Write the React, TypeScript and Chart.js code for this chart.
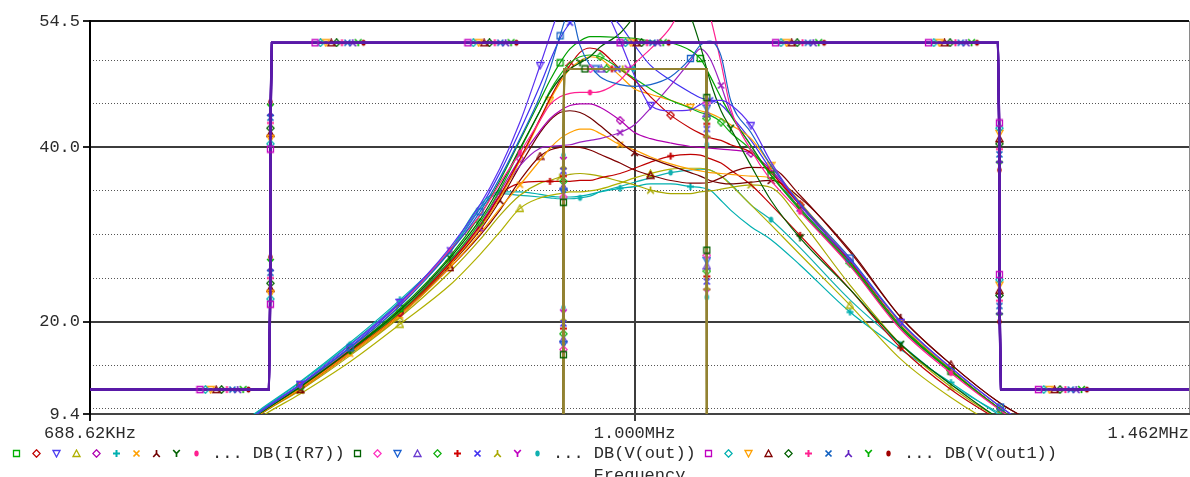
import React, { useEffect, useRef } from "react";
import { Chart, registerables } from "chart.js";

Chart.register(...registerables);

// ---------------- axes ----------------
const F_MIN_KHZ = 688.62;
const F_MAX_KHZ = 1462;
const DB_MIN = 9.4;
const DB_MAX = 54.5;
const X_TICK_KHZ = [688.62, 1000, 1462];
const X_TICK_LABELS = ["688.62KHz", "1.000MHz", "1.462MHz"];
const Y_TICK_DB = [9.4, 20, 40, 54.5];
const Y_TICK_LABELS = ["9.4", "20.0", "40.0", "54.5"];
const Y_MINOR_DB = [10, 15, 25, 30, 35, 45, 50];
const X_TITLE = "Frequency";

// ---------------- DB(V(out1)) : wide band traces ----------------
const SQ_LEVELS_DB = [12.2, 52.0];
const SQ_EDGES_KHZ = [778.4, 780.0, 1282.6, 1285.3];
const SQ_MARK_KHZ = [742.5, 803.4, 892.1, 990.1, 1101.4, 1223.0, 1318.7];
const SQ_MARK_DB = [22.0, 39.8, 42.8, 25.4];

// ---------------- DB(V(out)) : narrow band traces ----------------
const IN_LEVELS_DB = [-20, 49.0];
const IN_EDGES_KHZ = [951.9, 952.9, 1050.6, 1050.9];
const IN_MARK_KHZ = [966.6];
const IN_MARK_DB = [16.2, 33.7, 45.7, 28.2];

const MARK_RATIO = 1.0037;
const MARK_STEP_DB = 0.6;

// ---------------- DB(I(R7)) family : resonance curves ----------------
const BELL_KHZ = [763.1, 773.7, 795.2, 822.9, 851.5, 881.2, 899.5, 911.9, 924.5, 937.3, 943.7, 950.2, 956.7, 963.3, 969.9, 976.6, 990.1, 1000, 1011, 1025, 1039, 1046, 1053, 1061, 1068, 1083, 1098, 1120, 1159, 1200, 1242, 1285, 1303];

const BELL_V1_DB = [7.9, 9.7, 12.8, 17.3, 22.2, 28.5, 33.4, 37.6, 42.9, 49.4, 52.8, 56.2, 59.1, 60.8, 60.2, 57.4, 52.2, 48.2, 44.8, 44.2, 44.3, 44.9, 45.4, 45.4, 44.9, 42.5, 38.3, 33.4, 27.1, 19.9, 14.7, 10.2, 8.6];
const BELL_B1_DB = [7.9, 9.6, 12.7, 17.0, 21.8, 28.0, 32.6, 36.5, 41.0, 45.9, 49.0, 52.8, 55.7, 51.7, 49.4, 48.1, 47.2, 47.0, 47.2, 48.1, 50.2, 51.7, 52.2, 50.5, 45.4, 41.7, 37.9, 33.6, 27.3, 20.0, 14.7, 10.2, 8.6];
const BELL_P1_DB = [7.9, 9.6, 12.7, 16.9, 21.9, 28.2, 32.2, 35.9, 39.4, 43.1, 44.9, 45.8, 46.2, 46.3, 46.3, 46.4, 47.7, 49.6, 51.3, 53.8, 57.9, 58.5, 55.1, 49.7, 44.5, 39.7, 36.2, 32.6, 26.4, 19.1, 14.1, 9.8, 8.2];
const BELL_DG_DB = [7.8, 9.5, 12.5, 16.7, 21.3, 27.3, 31.7, 35.5, 39.9, 44.2, 46.3, 47.9, 49.0, 49.7, 50.4, 51.5, 53.1, 55.1, 57.9, 59.7, 55.1, 51.7, 47.7, 44.2, 42.2, 37.9, 33.9, 29.6, 23.7, 17.4, 12.8, 8.8, 7.7];
const BELL_G1_DB = [7.8, 9.5, 12.6, 16.8, 21.5, 27.5, 32.2, 36.2, 40.8, 45.4, 47.7, 49.7, 51.3, 52.2, 52.7, 52.7, 52.6, 52.5, 52.2, 52.0, 51.1, 50.2, 48.2, 45.7, 43.7, 40.2, 36.8, 32.8, 26.5, 19.3, 14.3, 9.9, 8.3];
const BELL_G2_DB = [7.8, 9.5, 12.5, 16.7, 21.1, 27.0, 31.4, 35.1, 39.7, 44.2, 46.5, 48.3, 49.7, 50.4, 50.6, 50.4, 49.0, 47.9, 46.7, 45.4, 44.5, 44.0, 43.7, 42.9, 41.7, 39.7, 36.8, 33.0, 26.7, 19.5, 14.4, 9.9, 8.3];
const BELL_R1_DB = [7.7, 9.5, 12.5, 16.6, 21.0, 26.7, 31.0, 34.5, 38.7, 43.3, 45.6, 47.7, 49.4, 50.9, 51.4, 51.1, 49.0, 47.7, 45.8, 43.7, 42.2, 41.6, 41.1, 40.8, 40.3, 39.4, 37.1, 33.4, 26.9, 19.5, 14.4, 9.9, 8.3];
const BELL_O1_DB = [7.7, 9.4, 12.3, 16.5, 20.9, 26.6, 30.7, 34.2, 38.5, 43.1, 45.4, 47.4, 49.0, 49.9, 50.4, 50.2, 48.2, 46.7, 46.1, 45.4, 44.6, 44.2, 43.9, 43.3, 42.6, 41.0, 37.9, 33.7, 27.1, 19.8, 14.5, 9.9, 8.3];
const BELL_PU_DB = [7.7, 9.5, 12.5, 16.6, 21.0, 26.9, 31.1, 34.9, 38.7, 41.9, 43.3, 44.2, 44.8, 45.0, 45.0, 44.6, 43.1, 41.7, 41.0, 40.5, 40.1, 40.0, 39.9, 39.8, 39.7, 39.3, 37.4, 33.4, 26.9, 19.5, 14.4, 9.9, 8.3];
const BELL_MG_DB = [7.8, 9.5, 12.6, 16.8, 21.3, 26.9, 30.7, 34.5, 37.9, 39.9, 40.1, 40.2, 40.3, 40.6, 40.8, 41.0, 41.7, 42.6, 44.5, 47.1, 49.9, 51.3, 50.2, 47.1, 44.0, 40.2, 36.8, 33.0, 26.6, 19.3, 14.3, 9.9, 8.3];
const BELL_DR1_DB = [7.5, 9.4, 12.3, 16.5, 20.9, 26.5, 30.5, 33.9, 37.9, 41.7, 43.1, 44.0, 44.2, 44.0, 43.4, 42.5, 40.6, 39.4, 38.7, 37.9, 37.1, 36.7, 36.2, 35.9, 35.8, 36.0, 36.2, 34.2, 28.2, 20.5, 15.1, 10.6, 9.2];
const BELL_O2_DB = [7.5, 9.4, 12.2, 16.3, 20.7, 26.2, 30.1, 33.0, 35.7, 38.5, 39.9, 41.0, 41.7, 42.1, 42.1, 41.6, 40.3, 39.7, 38.9, 38.1, 37.5, 37.3, 37.1, 37.0, 36.9, 36.7, 36.5, 33.4, 26.9, 19.5, 14.4, 9.9, 8.3];
const BELL_DR2_DB = [7.5, 9.4, 12.2, 16.3, 20.7, 26.2, 29.9, 32.8, 36.2, 39.0, 39.7, 40.0, 40.1, 40.0, 39.7, 39.2, 38.2, 37.4, 36.8, 36.2, 35.9, 35.9, 36.0, 36.5, 37.1, 37.7, 37.6, 34.5, 28.0, 20.5, 15.1, 10.6, 9.2];
const BELL_R2_DB = [7.7, 9.5, 12.5, 16.6, 21.0, 26.6, 30.7, 34.5, 35.9, 36.1, 36.1, 36.1, 36.1, 36.2, 36.2, 36.5, 37.0, 37.6, 38.3, 39.0, 39.2, 39.1, 38.7, 38.2, 37.4, 35.7, 33.4, 29.9, 23.7, 17.0, 12.2, 8.6, 7.4];
const BELL_OL1_DB = [7.4, 9.3, 12.1, 16.1, 20.5, 25.7, 29.4, 32.2, 34.5, 35.9, 36.2, 36.6, 36.9, 37.0, 36.9, 36.7, 36.1, 35.7, 35.1, 34.7, 34.7, 34.9, 35.0, 35.2, 35.4, 35.7, 35.4, 31.7, 24.2, 17.4, 12.5, 8.8, 7.7];
const BELL_OL2_DB = [7.2, 9.0, 11.7, 15.4, 19.7, 24.2, 27.7, 30.3, 33.0, 34.2, 34.5, 34.7, 34.9, 34.9, 35.0, 35.2, 35.9, 36.5, 37.0, 37.5, 37.6, 37.6, 37.4, 36.7, 35.7, 33.4, 31.1, 27.7, 21.9, 15.7, 11.3, 7.9, 7.0];
const BELL_C1_DB = [8.2, 9.9, 13.1, 17.6, 22.5, 28.2, 33.4, 34.9, 34.9, 34.6, 34.4, 34.3, 34.3, 34.4, 34.6, 34.9, 35.3, 35.5, 35.8, 35.8, 35.5, 35.4, 35.1, 33.9, 32.8, 30.9, 29.4, 26.5, 21.1, 16.8, 13.0, 9.2, 7.9];
const BELL_C2_DB = [8.1, 9.8, 13.0, 17.4, 22.3, 28.0, 33.0, 34.7, 34.5, 34.3, 34.2, 34.1, 34.1, 34.2, 34.4, 34.9, 35.5, 36.0, 36.5, 37.1, 37.4, 37.5, 37.4, 36.7, 35.8, 33.4, 31.7, 28.5, 22.5, 17.4, 12.8, 9.4, 8.0];
const BELL_V2_DB = [7.9, 9.7, 12.8, 17.1, 22.1, 28.2, 33.0, 37.1, 41.9, 47.1, 49.9, 52.5, 54.3, 55.7, 56.8, 56.2, 54.0, 51.7, 49.4, 47.7, 46.3, 45.7, 45.4, 44.9, 43.7, 40.8, 37.4, 33.0, 26.9, 19.5, 14.4, 9.9, 8.3];

// ---------------- styles ----------------
const FONT = '"Liberation Mono", "Courier New", monospace';
const TEXT_COLOR = "#2a2a2a";

type Style = [string, string];

const GROUP_IR7: Style[] = [
  ["square", "#00b000"], ["diamond", "#c00000"], ["triDown", "#4b3cf0"], ["triUp", "#b0b000"], ["diamond", "#b000b0"],
  ["plus", "#00b0b0"], ["cross", "#ffa000"], ["lambda", "#700000"], ["y", "#006000"], ["dot", "#ff2090"],
];
const GROUP_VOUT: Style[] = [
  ["square", "#006000"], ["diamond", "#ff30c0"], ["triDown", "#1a60d0"], ["triUp", "#6a3ad0"], ["diamond", "#10b010"],
  ["plus", "#d00000"], ["cross", "#4030f0"], ["lambda", "#a8a800"], ["y", "#c000c0"], ["dot", "#10b0b0"],
];
const GROUP_VOUT1: Style[] = [
  ["square", "#c000c0"], ["diamond", "#00b0b0"], ["triDown", "#ffa000"], ["triUp", "#800000"], ["diamond", "#006000"],
  ["plus", "#ff2090"], ["cross", "#1060c0"], ["lambda", "#6020c0"], ["y", "#00b000"], ["dot", "#a00000"],
];
const LEGEND_TEXT = ["... DB(I(R7))", "... DB(V(out))", "... DB(V(out1))"];

const BELLS = [
  { db: BELL_V1_DB, shape: "triDown", color: "#5a30f0", marks: [2, 4, 9, 18, 25, 29] },
  { db: BELL_B1_DB, shape: "square", color: "#1a62c8", marks: [3, 6, 11, 20, 28, 31] },
  { db: BELL_P1_DB, shape: "dot", color: "#ff2090", marks: [2, 5, 8, 14, 27, 30] },
  { db: BELL_DG_DB, shape: "y", color: "#006000", marks: [3, 5, 13, 24, 27, 29] },
  { db: BELL_G1_DB, shape: "square", color: "#00a000", marks: [2, 4, 11, 21, 26, 30] },
  { db: BELL_G2_DB, shape: "diamond", color: "#10b010", marks: [3, 6, 15, 23, 28, 31] },
  { db: BELL_R1_DB, shape: "diamond", color: "#c00000", marks: [2, 4, 12, 19, 27, 30] },
  { db: BELL_O1_DB, shape: "triDown", color: "#ffa000", marks: [3, 5, 10, 20, 26, 29] },
  { db: BELL_PU_DB, shape: "diamond", color: "#b000b0", marks: [2, 4, 8, 16, 25, 28] },
  { db: BELL_MG_DB, shape: "cross", color: "#9a20c0", marks: [3, 6, 16, 23, 27, 30] },
  { db: BELL_DR1_DB, shape: "lambda", color: "#700000", marks: [2, 5, 7, 17, 26, 29] },
  { db: BELL_O2_DB, shape: "cross", color: "#ffa000", marks: [3, 4, 8, 16, 27, 31] },
  { db: BELL_DR2_DB, shape: "triUp", color: "#800000", marks: [2, 5, 9, 18, 26, 30] },
  { db: BELL_R2_DB, shape: "plus", color: "#c00000", marks: [3, 6, 10, 19, 27, 29] },
  { db: BELL_OL1_DB, shape: "lambda", color: "#a8a800", marks: [2, 4, 11, 18, 25, 30] },
  { db: BELL_OL2_DB, shape: "triUp", color: "#b0b000", marks: [4, 8, 18, 28, 31] },
  { db: BELL_C1_DB, shape: "plus", color: "#00b0b0", marks: [4, 7, 16, 20, 28, 30] },
  { db: BELL_C2_DB, shape: "dot", color: "#10b0b0", marks: [3, 5, 13, 19, 26, 29] },
  { db: BELL_V2_DB, shape: "cross", color: "#4030f0", marks: [2, 5, 12, 22, 27, 31] },
];

function makeMarker(shape: string, color: string): HTMLCanvasElement {
  const c = document.createElement("canvas");
  c.width = 9;
  c.height = 9;
  const g = c.getContext("2d")!;
  g.strokeStyle = color;
  g.fillStyle = color;
  g.lineWidth = 1.3;
  const m = 4.5;
  g.beginPath();
  switch (shape) {
    case "square":
      g.rect(1.5, 1.5, 6, 6);
      g.stroke();
      break;
    case "diamond":
      g.moveTo(m, 0.8); g.lineTo(8.2, m); g.lineTo(m, 8.2); g.lineTo(0.8, m); g.closePath();
      g.stroke();
      break;
    case "triDown":
      g.moveTo(1, 1.5); g.lineTo(8, 1.5); g.lineTo(m, 8); g.closePath();
      g.stroke();
      break;
    case "triUp":
      g.moveTo(m, 1); g.lineTo(8, 7.5); g.lineTo(1, 7.5); g.closePath();
      g.stroke();
      break;
    case "plus":
      g.moveTo(m, 1); g.lineTo(m, 8); g.moveTo(1, m); g.lineTo(8, m);
      g.lineWidth = 2;
      g.stroke();
      break;
    case "cross":
      g.moveTo(1.5, 1.5); g.lineTo(7.5, 7.5); g.moveTo(7.5, 1.5); g.lineTo(1.5, 7.5);
      g.lineWidth = 1.7;
      g.stroke();
      break;
    case "lambda":
      g.moveTo(m, 1); g.lineTo(m, 4.5); g.lineTo(1.2, 8); g.moveTo(m, 4.5); g.lineTo(7.8, 8);
      g.lineWidth = 1.7;
      g.stroke();
      break;
    case "y":
      g.moveTo(1.2, 1); g.lineTo(m, 4.5); g.lineTo(7.8, 1); g.moveTo(m, 4.5); g.lineTo(m, 8);
      g.lineWidth = 1.7;
      g.stroke();
      break;
    default:
      g.ellipse(m, m, 2.2, 3, 0, 0, Math.PI * 2);
      g.fill();
  }
  return c;
}

type Pt = { x: number; y: number };

function buildSquare(i: number) {
  const k = Math.pow(MARK_RATIO, i);
  const [lo, hi] = SQ_LEVELS_DB;
  const [r0, r1, f0, f1] = SQ_EDGES_KHZ;
  const pts: Pt[] = [];
  const marks: number[] = [];
  const add = (x: number, y: number, m: boolean) => {
    if (m) marks.push(pts.length);
    pts.push({ x, y });
  };
  add(F_MIN_KHZ, lo, false);
  add(SQ_MARK_KHZ[0] * k, lo, true);
  add(r0, lo, false);
  add((r0 + r1) / 2, SQ_MARK_DB[0] + i * MARK_STEP_DB, true);
  add((r0 + r1) / 2, SQ_MARK_DB[1] + i * MARK_STEP_DB, true);
  add(r1, hi, false);
  for (let j = 1; j <= 5; j++) add(SQ_MARK_KHZ[j] * k, hi, true);
  add(f0, hi, false);
  add((f0 + f1) / 2, SQ_MARK_DB[2] - i * MARK_STEP_DB, true);
  add((f0 + f1) / 2, SQ_MARK_DB[3] - i * MARK_STEP_DB, true);
  add(f1, lo, false);
  add(SQ_MARK_KHZ[6] * k, lo, true);
  add(F_MAX_KHZ, lo, false);
  return { pts, marks };
}

function buildInner(i: number) {
  const k = Math.pow(MARK_RATIO, i);
  const [lo, hi] = IN_LEVELS_DB;
  const [e0, e1, e2, e3] = IN_EDGES_KHZ;
  const pts: Pt[] = [];
  const marks: number[] = [];
  const add = (x: number, y: number, m: boolean) => {
    if (m) marks.push(pts.length);
    pts.push({ x, y });
  };
  add(F_MIN_KHZ, lo, false);
  add(e0, lo, false);
  add((e0 + e1) / 2, IN_MARK_DB[0] + i * MARK_STEP_DB, true);
  add((e0 + e1) / 2, IN_MARK_DB[1] + i * MARK_STEP_DB, true);
  add(e1, hi, false);
  add(IN_MARK_KHZ[0] * k, hi, true);
  add(e2, hi, false);
  add((e2 + e3) / 2, IN_MARK_DB[2] - i * MARK_STEP_DB, true);
  add((e2 + e3) / 2, IN_MARK_DB[3] - i * MARK_STEP_DB, true);
  add(e3, lo, false);
  add(F_MAX_KHZ, lo, false);
  return { pts, marks };
}

export default function App() {
  const ref = useRef<HTMLCanvasElement>(null);

  useEffect(() => {
    const canvas = ref.current;
    if (!canvas) return;

    const legendImgs = [GROUP_IR7, GROUP_VOUT, GROUP_VOUT1].map((g) => g.map(([s, c]) => makeMarker(s, c)));

    const datasets: any[] = [];

    GROUP_VOUT1.forEach(([shape, color], i) => {
      const { pts, marks } = buildSquare(i);
      datasets.push({
        data: pts,
        borderColor: "#5a1aa8",
        borderWidth: 2,
        tension: 0,
        clip: 0,
        pointStyle: makeMarker(shape, color),
        pointRadius: (ctx: any) => (marks.includes(ctx.dataIndex) ? 3 : 0),
        yAxisID: "y",
      });
    });

    GROUP_VOUT.forEach(([shape, color], i) => {
      const { pts, marks } = buildInner(i);
      datasets.push({
        data: pts,
        borderColor: "#928232",
        borderWidth: 2,
        tension: 0,
        clip: 0,
        pointStyle: makeMarker(shape, color),
        pointRadius: (ctx: any) => (marks.includes(ctx.dataIndex) ? 3 : 0),
        yAxisID: "y",
      });
    });

    BELLS.forEach((b) => {
      datasets.push({
        data: BELL_KHZ.map((f, j) => ({ x: f, y: b.db[j] })),
        borderColor: b.color,
        borderWidth: 1.2,
        cubicInterpolationMode: "monotone",
        clip: 0,
        pointStyle: makeMarker(b.shape, b.color),
        pointRadius: (ctx: any) => (b.marks.includes(ctx.dataIndex) ? 3 : 0),
        yAxisID: "y",
      });
    });

    const legendPlugin = {
      id: "pspiceLegend",
      afterDraw(chart: any) {
        const ctx = chart.ctx;
        ctx.save();
        ctx.font = `17px ${FONT}`;
        ctx.fillStyle = TEXT_COLOR;
        ctx.textBaseline = "middle";
        ctx.textAlign = "left";
        const xs = [16, 357, 708];
        const yc = 453;
        legendImgs.forEach((imgs, gi) => {
          imgs.forEach((img, j) => {
            ctx.drawImage(img, Math.round(xs[gi] + j * 20 - 4.5), Math.round(yc - 4.5));
          });
          ctx.fillText(LEGEND_TEXT[gi], xs[gi] + 196, yc);
        });
        ctx.restore();
      },
    };

    const solid = "#3c3c3c";
    const chart = new Chart(canvas, {
      type: "line",
      data: { datasets },
      options: {
        responsive: false,
        animation: false,
        events: [],
        layout: { padding: { top: 21, right: 1, left: 0, bottom: 0 } },
        plugins: { legend: { display: false }, tooltip: { enabled: false } },
        scales: {
          x: {
            type: "logarithmic",
            min: F_MIN_KHZ,
            max: F_MAX_KHZ,
            afterBuildTicks: (s: any) => {
              s.ticks = X_TICK_KHZ.map((v) => ({ value: v }));
            },
            afterFit: (s: any) => {
              s.height = 63;
              s.paddingLeft = 0;
              s.paddingRight = 0;
            },
            ticks: {
              autoSkip: false,
              maxRotation: 0,
              minRotation: 0,
              padding: 2,
              color: TEXT_COLOR,
              font: { family: FONT, size: 17 },
              callback: (_v: any, i: number) =>
                i === X_TICK_LABELS.length - 1
                  ? X_TICK_LABELS[i] + " ".repeat(X_TICK_LABELS[i].length)
                  : X_TICK_LABELS[i],
            },
            grid: {
              color: (c: any) => (c.index === 1 ? solid : c.index === 2 ? "#8a8a8a" : "rgba(0,0,0,0)"),
              lineWidth: (c: any) => (c.index === 2 ? 1 : 2),
              tickLength: 7,
              tickWidth: 2,
              tickColor: (c: any) => (c.index === 0 ? "#111" : c.index === 1 ? solid : "rgba(0,0,0,0)"),
            },
            border: { color: "#444", width: 2 },
            title: {
              display: true,
              text: X_TITLE,
              color: TEXT_COLOR,
              font: { family: FONT, size: 17, lineHeight: 1 },
              padding: { top: 0, bottom: -7 },
            },
          },
          y: {
            type: "linear",
            position: "left",
            min: DB_MIN,
            max: DB_MAX,
            afterBuildTicks: (s: any) => {
              s.ticks = Y_TICK_DB.map((v) => ({ value: v }));
            },
            afterFit: (s: any) => {
              s.width = 90;
              s.paddingTop = 0;
              s.paddingBottom = 0;
            },
            ticks: {
              autoSkip: false,
              padding: 3,
              color: TEXT_COLOR,
              font: { family: FONT, size: 17 },
              callback: (_v: any, i: number) => Y_TICK_LABELS[i],
            },
            grid: {
              color: (c: any) => {
                const v = c.tick ? c.tick.value : null;
                if (v === DB_MAX) return "#111";
                if (v === DB_MIN) return "rgba(0,0,0,0)";
                return solid;
              },
              lineWidth: 2,
              tickLength: 7,
              tickWidth: 2,
              tickColor: "#222",
            },
            border: { color: "#000", width: 2 },
          },
          yd: {
            type: "linear",
            position: "left",
            min: DB_MIN,
            max: DB_MAX,
            afterBuildTicks: (s: any) => {
              s.ticks = Y_MINOR_DB.map((v) => ({ value: v }));
            },
            afterFit: (s: any) => {
              s.width = 0;
              s.paddingTop = 0;
              s.paddingBottom = 0;
            },
            ticks: { display: false },
            grid: { color: "#555", lineWidth: 1, drawTicks: false },
            border: { display: false, dash: [1, 2] },
          },
        },
      } as any,
      plugins: [legendPlugin],
    });

    return () => chart.destroy();
  }, []);

  return (
    <canvas
      ref={ref}
      width={1190}
      height={477}
      style={{ position: "fixed", left: 0, top: 0, width: 1190, height: 477, background: "#fff" }}
    />
  );
}
